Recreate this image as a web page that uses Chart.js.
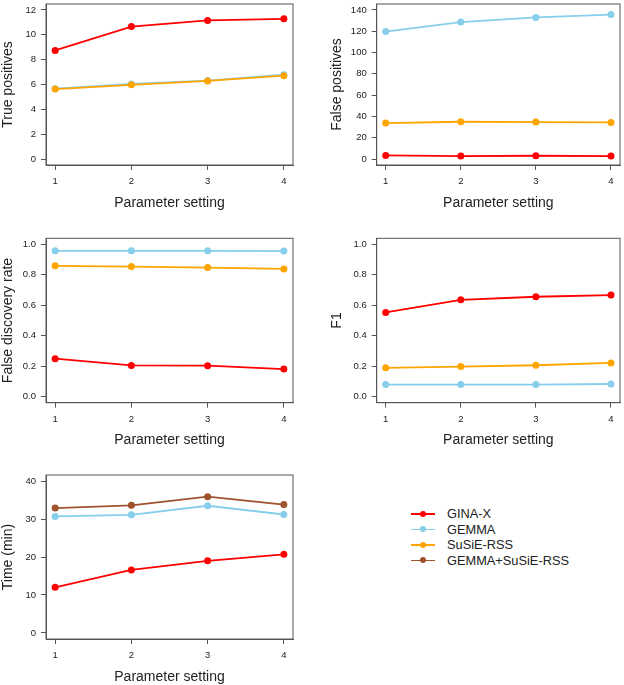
<!DOCTYPE html>
<html>
<head>
<meta charset="utf-8">
<script src="https://cdn.jsdelivr.net/npm/chart.js@4"></script>
<style>
  body { margin: 0; background: #fff; }
  #page { position: relative; width: 624px; height: 685px; font-family: "Liberation Sans", Arial, sans-serif; }
  .panel { position: absolute; }
  #legend { position: absolute; left: 411px; top: 506px; font-size: 12.8px; color: #222; }
  #legend .item { height: 15.5px; line-height: 15.5px; display: flex; align-items: center; }
  #legend .key { position: relative; width: 24px; height: 15.5px; margin-right: 12px; }
  #legend .key .ln { position: absolute; left: 0; right: 0; top: 7px; height: 1.8px; }
  #legend .key .dot { position: absolute; left: 9px; top: 4.8px; width: 6px; height: 6px; border-radius: 50%; }
</style>
</head>
<body>
<div id="page">
  <div class="panel" id="p1"><canvas id="c1"></canvas></div>
  <div class="panel" id="p2"><canvas id="c2"></canvas></div>
  <div class="panel" id="p3"><canvas id="c3"></canvas></div>
  <div class="panel" id="p4"><canvas id="c4"></canvas></div>
  <div class="panel" id="p5"><canvas id="c5"></canvas></div>
  <div id="legend"></div>
</div>
<script>
// Data
const settings = [1, 2, 3, 4];
const methods = ["GINA-X", "GEMMA", "SuSiE-RSS", "GEMMA+SuSiE-RSS"];
const colors = ["#ff0000", "#87ceeb", "#ffa500", "#a0522d"];

const tpGina = [8.74, 10.66, 11.16, 11.29];
const tpGemma = [5.66, 6.05, 6.32, 6.79];
const tpSusie = [5.63, 5.97, 6.29, 6.71];

const fpGina = [3.4, 2.8, 3.1, 2.8];
const fpGemma = [119.7, 128.6, 133.0, 135.7];
const fpSusie = [33.8, 35.0, 34.7, 34.4];

const fdrGina = [0.249, 0.205, 0.203, 0.181];
const fdrGemma = [0.958, 0.958, 0.958, 0.956];
const fdrSusie = [0.859, 0.854, 0.848, 0.839];

const f1Gina = [0.553, 0.636, 0.656, 0.667];
const f1Gemma = [0.079, 0.079, 0.079, 0.083];
const f1Susie = [0.189, 0.197, 0.206, 0.221];

const timeGina = [12.0, 16.6, 19.0, 20.7];
const timeGemma = [30.7, 31.1, 33.5, 31.2];
const timeBoth = [32.9, 33.6, 35.9, 33.8];

const tpTicks = [0, 2, 4, 6, 8, 10, 12];
const fpTicks = [0, 20, 40, 60, 80, 100, 120, 140];
const rateTicks = [0, 0.2, 0.4, 0.6, 0.8, 1.0];
const timeTicks = [0, 10, 20, 30, 40];

// Layout
const FONT = "'Liberation Sans', Arial, sans-serif";
const TEXT = "#222";
const AXIS = "#555";

const rows = [
  { top: 0, h: 225, areaTop: 2, areaBottom: 165, titleY: 203 },
  { top: 225, h: 230, areaTop: 13.3, areaBottom: 177.7, titleY: 215 },
  { top: 455, h: 231, areaTop: 20, areaBottom: 184, titleY: 222 },
];
const cols = [
  { left: 0, w: 312, areaLeft: 46, areaRight: 293, titleX: 8.4 },
  { left: 312, w: 312, areaLeft: 64.7, areaRight: 309.7, titleX: 25 },
];

// box round the plot region
const boxPlugin = {
  id: "box",
  afterDraw(chart) {
    const a = chart.chartArea;
    const c = chart.ctx;
    c.save();
    c.strokeStyle = AXIS;
    c.lineWidth = 1;
    c.strokeRect(a.left, a.top, a.right - a.left, a.bottom - a.top);
    c.restore();
  },
};

function makePanel(n, row, col, yTitle, yTicks, decimals, series) {
  const r = rows[row];
  const cl = cols[col];
  const wrap = document.getElementById("p" + n);
  wrap.style.left = cl.left + "px";
  wrap.style.top = r.top + "px";
  wrap.style.width = cl.w + "px";
  wrap.style.height = r.h + "px";

  const half = 8.4;
  const padLeft = Math.max(0, cl.titleX - half);
  const yWidth = cl.areaLeft - padLeft;
  const xHeight = r.titleY + half - r.areaBottom;
  const padBottom = Math.max(0, r.h - (r.titleY + half));

  const yMin = yTicks[0];
  const yMax = yTicks[yTicks.length - 1];
  const yPad = (yMax - yMin) * 0.04;
  const xPad = (settings[settings.length - 1] - settings[0]) * 0.04;

  new Chart(document.getElementById("c" + n), {
    type: "line",
    data: {
      datasets: series.map((s) => ({
        label: methods[s.m],
        data: settings.map((x, i) => ({ x: x, y: s.values[i] })),
        borderColor: colors[s.m],
        backgroundColor: colors[s.m],
        pointBackgroundColor: colors[s.m],
        pointBorderColor: colors[s.m],
        borderWidth: 1.8,
        pointRadius: 3.5,
        pointBorderWidth: 0,
        tension: 0,
        fill: false,
        order: s.order,
      })),
    },
    options: {
      responsive: true,
      maintainAspectRatio: false,
      animation: false,
      layout: {
        padding: { left: padLeft, top: r.areaTop, right: cl.w - cl.areaRight, bottom: padBottom },
      },
      plugins: {
        legend: { display: false },
        tooltip: { enabled: false },
      },
      scales: {
        x: {
          type: "linear",
          min: settings[0] - xPad,
          max: settings[settings.length - 1] + xPad,
          afterBuildTicks: (scale) => {
            scale.ticks = settings.map((v) => ({ value: v }));
          },
          afterFit: (scale) => {
            scale.height = xHeight;
            scale.paddingLeft = 0;
            scale.paddingRight = 0;
          },
          grid: { drawOnChartArea: false, drawTicks: true, tickLength: 5, color: AXIS },
          border: { display: true, color: AXIS },
          ticks: {
            autoSkip: false,
            maxRotation: 0,
            padding: 5.5,
            color: TEXT,
            font: { family: FONT, size: 9.5 },
            callback: (v) => String(v),
          },
          title: {
            display: true,
            text: "Parameter setting",
            color: TEXT,
            padding: 0,
            font: { family: FONT, size: 14 },
          },
        },
        y: {
          type: "linear",
          min: yMin - yPad,
          max: yMax + yPad,
          afterBuildTicks: (scale) => {
            scale.ticks = yTicks.map((v) => ({ value: v }));
          },
          afterFit: (scale) => {
            scale.width = yWidth;
            scale.paddingTop = 0;
            scale.paddingBottom = 0;
          },
          grid: { drawOnChartArea: false, drawTicks: true, tickLength: 5, color: AXIS },
          border: { display: true, color: AXIS },
          ticks: {
            autoSkip: false,
            padding: 5,
            color: TEXT,
            font: { family: FONT, size: 9.5 },
            callback: (v) => Number(v).toFixed(decimals),
          },
          title: {
            display: true,
            text: yTitle,
            color: TEXT,
            padding: 0,
            font: { family: FONT, size: 14 },
          },
        },
      },
    },
    plugins: [boxPlugin],
  });
}

makePanel(1, 0, 0, "True positives", tpTicks, 0, [
  { m: 0, values: tpGina, order: 1 },
  { m: 1, values: tpGemma, order: 3 },
  { m: 2, values: tpSusie, order: 2 },
]);
makePanel(2, 0, 1, "False positives", fpTicks, 0, [
  { m: 0, values: fpGina, order: 1 },
  { m: 1, values: fpGemma, order: 3 },
  { m: 2, values: fpSusie, order: 2 },
]);
makePanel(3, 1, 0, "False discovery rate", rateTicks, 1, [
  { m: 0, values: fdrGina, order: 1 },
  { m: 1, values: fdrGemma, order: 3 },
  { m: 2, values: fdrSusie, order: 2 },
]);
makePanel(4, 1, 1, "F1", rateTicks, 1, [
  { m: 0, values: f1Gina, order: 1 },
  { m: 1, values: f1Gemma, order: 3 },
  { m: 2, values: f1Susie, order: 2 },
]);
makePanel(5, 2, 0, "Time (min)", timeTicks, 0, [
  { m: 0, values: timeGina, order: 1 },
  { m: 1, values: timeGemma, order: 3 },
  { m: 3, values: timeBoth, order: 2 },
]);

// Legend
const legend = document.getElementById("legend");
methods.forEach((name, i) => {
  const item = document.createElement("div");
  item.className = "item";
  const key = document.createElement("span");
  key.className = "key";
  const ln = document.createElement("span");
  ln.className = "ln";
  ln.style.background = colors[i];
  const dot = document.createElement("span");
  dot.className = "dot";
  dot.style.background = colors[i];
  key.appendChild(ln);
  key.appendChild(dot);
  item.appendChild(key);
  item.appendChild(document.createTextNode(name));
  legend.appendChild(item);
});
</script>
</body>
</html>
